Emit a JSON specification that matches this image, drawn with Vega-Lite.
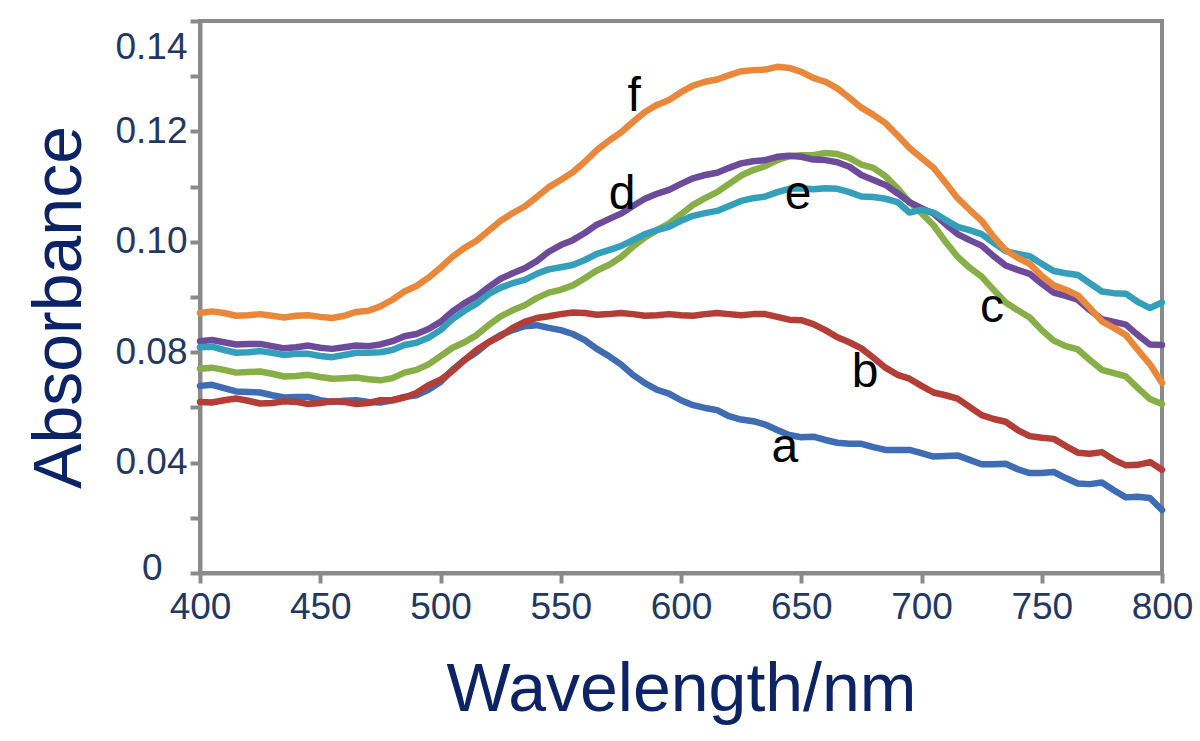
{
  "$schema": "https://vega.github.io/schema/vega-lite/v6.json",
  "width": 962,
  "height": 552,
  "autosize": {"type": "none"},
  "padding": {"left": 200, "top": 21, "right": 38, "bottom": 168},
  "background": "white",
  "config": {
    "view": {"stroke": "#8a8a8a", "strokeWidth": 4},
    "font": "Liberation Sans"
  },
  "datasets": {
    "spectra": [
      {"wl": 400, "a": 0.0739, "b": 0.0710, "c": 0.0770, "d": 0.0820, "e": 0.0809, "f": 0.0871},
      {"wl": 405, "a": 0.0741, "b": 0.0709, "c": 0.0772, "d": 0.0822, "e": 0.0810, "f": 0.0874},
      {"wl": 410, "a": 0.0735, "b": 0.0713, "c": 0.0768, "d": 0.0818, "e": 0.0804, "f": 0.0871},
      {"wl": 415, "a": 0.0729, "b": 0.0716, "c": 0.0763, "d": 0.0814, "e": 0.0799, "f": 0.0866},
      {"wl": 420, "a": 0.0728, "b": 0.0712, "c": 0.0764, "d": 0.0815, "e": 0.0800, "f": 0.0867},
      {"wl": 425, "a": 0.0727, "b": 0.0707, "c": 0.0765, "d": 0.0815, "e": 0.0802, "f": 0.0869},
      {"wl": 430, "a": 0.0722, "b": 0.0708, "c": 0.0761, "d": 0.0811, "e": 0.0799, "f": 0.0866},
      {"wl": 435, "a": 0.0718, "b": 0.0711, "c": 0.0756, "d": 0.0807, "e": 0.0795, "f": 0.0863},
      {"wl": 440, "a": 0.0719, "b": 0.0710, "c": 0.0757, "d": 0.0809, "e": 0.0797, "f": 0.0866},
      {"wl": 445, "a": 0.0719, "b": 0.0706, "c": 0.0759, "d": 0.0812, "e": 0.0797, "f": 0.0867},
      {"wl": 450, "a": 0.0713, "b": 0.0708, "c": 0.0755, "d": 0.0808, "e": 0.0793, "f": 0.0864},
      {"wl": 455, "a": 0.0710, "b": 0.0711, "c": 0.0752, "d": 0.0806, "e": 0.0791, "f": 0.0862},
      {"wl": 460, "a": 0.0712, "b": 0.0710, "c": 0.0753, "d": 0.0809, "e": 0.0795, "f": 0.0866},
      {"wl": 465, "a": 0.0713, "b": 0.0706, "c": 0.0754, "d": 0.0812, "e": 0.0799, "f": 0.0873},
      {"wl": 470, "a": 0.0710, "b": 0.0708, "c": 0.0751, "d": 0.0811, "e": 0.0799, "f": 0.0875},
      {"wl": 475, "a": 0.0709, "b": 0.0713, "c": 0.0749, "d": 0.0814, "e": 0.0800, "f": 0.0883},
      {"wl": 480, "a": 0.0713, "b": 0.0713, "c": 0.0753, "d": 0.0820, "e": 0.0804, "f": 0.0895},
      {"wl": 485, "a": 0.0719, "b": 0.0718, "c": 0.0763, "d": 0.0829, "e": 0.0813, "f": 0.0910},
      {"wl": 490, "a": 0.0722, "b": 0.0726, "c": 0.0768, "d": 0.0833, "e": 0.0817, "f": 0.0920},
      {"wl": 495, "a": 0.0732, "b": 0.0740, "c": 0.0778, "d": 0.0842, "e": 0.0826, "f": 0.0935},
      {"wl": 500, "a": 0.0746, "b": 0.0750, "c": 0.0793, "d": 0.0855, "e": 0.0840, "f": 0.0953},
      {"wl": 505, "a": 0.0768, "b": 0.0766, "c": 0.0808, "d": 0.0874, "e": 0.0860, "f": 0.0973},
      {"wl": 510, "a": 0.0786, "b": 0.0786, "c": 0.0818, "d": 0.0889, "e": 0.0875, "f": 0.0989},
      {"wl": 515, "a": 0.0800, "b": 0.0804, "c": 0.0831, "d": 0.0901, "e": 0.0888, "f": 0.1002},
      {"wl": 520, "a": 0.0818, "b": 0.0818, "c": 0.0849, "d": 0.0918, "e": 0.0905, "f": 0.1020},
      {"wl": 525, "a": 0.0831, "b": 0.0829, "c": 0.0865, "d": 0.0933, "e": 0.0917, "f": 0.1038},
      {"wl": 530, "a": 0.0840, "b": 0.0844, "c": 0.0876, "d": 0.0943, "e": 0.0925, "f": 0.1052},
      {"wl": 535, "a": 0.0847, "b": 0.0855, "c": 0.0885, "d": 0.0952, "e": 0.0931, "f": 0.1064},
      {"wl": 540, "a": 0.0849, "b": 0.0862, "c": 0.0898, "d": 0.0965, "e": 0.0942, "f": 0.1081},
      {"wl": 545, "a": 0.0844, "b": 0.0865, "c": 0.0908, "d": 0.0982, "e": 0.0950, "f": 0.1099},
      {"wl": 550, "a": 0.0840, "b": 0.0869, "c": 0.0913, "d": 0.0994, "e": 0.0954, "f": 0.1112},
      {"wl": 555, "a": 0.0833, "b": 0.0872, "c": 0.0921, "d": 0.1003, "e": 0.0958, "f": 0.1126},
      {"wl": 560, "a": 0.0822, "b": 0.0871, "c": 0.0934, "d": 0.1016, "e": 0.0967, "f": 0.1145},
      {"wl": 565, "a": 0.0806, "b": 0.0868, "c": 0.0948, "d": 0.1031, "e": 0.0978, "f": 0.1166},
      {"wl": 570, "a": 0.0793, "b": 0.0869, "c": 0.0958, "d": 0.1041, "e": 0.0985, "f": 0.1183},
      {"wl": 575, "a": 0.0778, "b": 0.0871, "c": 0.0972, "d": 0.1051, "e": 0.0992, "f": 0.1198},
      {"wl": 580, "a": 0.0759, "b": 0.0869, "c": 0.0991, "d": 0.1065, "e": 0.1003, "f": 0.1217},
      {"wl": 585, "a": 0.0744, "b": 0.0866, "c": 0.1008, "d": 0.1078, "e": 0.1014, "f": 0.1235},
      {"wl": 590, "a": 0.0732, "b": 0.0867, "c": 0.1021, "d": 0.1087, "e": 0.1021, "f": 0.1248},
      {"wl": 595, "a": 0.0725, "b": 0.0869, "c": 0.1033, "d": 0.1094, "e": 0.1027, "f": 0.1257},
      {"wl": 600, "a": 0.0713, "b": 0.0867, "c": 0.1050, "d": 0.1105, "e": 0.1038, "f": 0.1271},
      {"wl": 605, "a": 0.0704, "b": 0.0866, "c": 0.1067, "d": 0.1115, "e": 0.1047, "f": 0.1283},
      {"wl": 610, "a": 0.0699, "b": 0.0869, "c": 0.1079, "d": 0.1121, "e": 0.1052, "f": 0.1290},
      {"wl": 615, "a": 0.0695, "b": 0.0871, "c": 0.1090, "d": 0.1125, "e": 0.1056, "f": 0.1294},
      {"wl": 620, "a": 0.0684, "b": 0.0869, "c": 0.1105, "d": 0.1134, "e": 0.1065, "f": 0.1302},
      {"wl": 625, "a": 0.0678, "b": 0.0867, "c": 0.1120, "d": 0.1142, "e": 0.1074, "f": 0.1309},
      {"wl": 630, "a": 0.0675, "b": 0.0869, "c": 0.1130, "d": 0.1146, "e": 0.1079, "f": 0.1311},
      {"wl": 635, "a": 0.0669, "b": 0.0869, "c": 0.1137, "d": 0.1148, "e": 0.1082, "f": 0.1312},
      {"wl": 640, "a": 0.0659, "b": 0.0864, "c": 0.1148, "d": 0.1154, "e": 0.1090, "f": 0.1317},
      {"wl": 645, "a": 0.0650, "b": 0.0859, "c": 0.1155, "d": 0.1156, "e": 0.1096, "f": 0.1315},
      {"wl": 650, "a": 0.0646, "b": 0.0858, "c": 0.1157, "d": 0.1154, "e": 0.1097, "f": 0.1308},
      {"wl": 655, "a": 0.0647, "b": 0.0851, "c": 0.1157, "d": 0.1149, "e": 0.1095, "f": 0.1297},
      {"wl": 660, "a": 0.0641, "b": 0.0840, "c": 0.1161, "d": 0.1148, "e": 0.1097, "f": 0.1290},
      {"wl": 665, "a": 0.0636, "b": 0.0827, "c": 0.1159, "d": 0.1144, "e": 0.1096, "f": 0.1278},
      {"wl": 670, "a": 0.0634, "b": 0.0818, "c": 0.1152, "d": 0.1136, "e": 0.1090, "f": 0.1261},
      {"wl": 675, "a": 0.0634, "b": 0.0807, "c": 0.1140, "d": 0.1121, "e": 0.1082, "f": 0.1243},
      {"wl": 680, "a": 0.0628, "b": 0.0790, "c": 0.1134, "d": 0.1112, "e": 0.1081, "f": 0.1230},
      {"wl": 685, "a": 0.0623, "b": 0.0772, "c": 0.1119, "d": 0.1103, "e": 0.1078, "f": 0.1215},
      {"wl": 690, "a": 0.0623, "b": 0.0759, "c": 0.1097, "d": 0.1088, "e": 0.1072, "f": 0.1193},
      {"wl": 695, "a": 0.0623, "b": 0.0752, "c": 0.1072, "d": 0.1072, "e": 0.1053, "f": 0.1170},
      {"wl": 700, "a": 0.0617, "b": 0.0739, "c": 0.1052, "d": 0.1061, "e": 0.1058, "f": 0.1152},
      {"wl": 705, "a": 0.0611, "b": 0.0727, "c": 0.1030, "d": 0.1051, "e": 0.1053, "f": 0.1134},
      {"wl": 710, "a": 0.0612, "b": 0.0722, "c": 0.1000, "d": 0.1032, "e": 0.1040, "f": 0.1107},
      {"wl": 715, "a": 0.0613, "b": 0.0716, "c": 0.0973, "d": 0.1014, "e": 0.1027, "f": 0.1079},
      {"wl": 720, "a": 0.0605, "b": 0.0701, "c": 0.0953, "d": 0.1003, "e": 0.1021, "f": 0.1058},
      {"wl": 725, "a": 0.0597, "b": 0.0686, "c": 0.0937, "d": 0.0993, "e": 0.1014, "f": 0.1038},
      {"wl": 730, "a": 0.0597, "b": 0.0679, "c": 0.0913, "d": 0.0974, "e": 0.0998, "f": 0.1009},
      {"wl": 735, "a": 0.0598, "b": 0.0674, "c": 0.0890, "d": 0.0957, "e": 0.0983, "f": 0.0985},
      {"wl": 740, "a": 0.0588, "b": 0.0659, "c": 0.0876, "d": 0.0949, "e": 0.0978, "f": 0.0971},
      {"wl": 745, "a": 0.0581, "b": 0.0648, "c": 0.0863, "d": 0.0942, "e": 0.0974, "f": 0.0960},
      {"wl": 750, "a": 0.0581, "b": 0.0645, "c": 0.0840, "d": 0.0924, "e": 0.0960, "f": 0.0938},
      {"wl": 755, "a": 0.0583, "b": 0.0643, "c": 0.0821, "d": 0.0908, "e": 0.0947, "f": 0.0921},
      {"wl": 760, "a": 0.0572, "b": 0.0630, "c": 0.0811, "d": 0.0902, "e": 0.0943, "f": 0.0913},
      {"wl": 765, "a": 0.0562, "b": 0.0618, "c": 0.0805, "d": 0.0895, "e": 0.0940, "f": 0.0903},
      {"wl": 770, "a": 0.0561, "b": 0.0616, "c": 0.0786, "d": 0.0876, "e": 0.0925, "f": 0.0880},
      {"wl": 775, "a": 0.0564, "b": 0.0619, "c": 0.0768, "d": 0.0860, "e": 0.0910, "f": 0.0856},
      {"wl": 780, "a": 0.0550, "b": 0.0605, "c": 0.0762, "d": 0.0855, "e": 0.0907, "f": 0.0844},
      {"wl": 785, "a": 0.0537, "b": 0.0595, "c": 0.0756, "d": 0.0850, "e": 0.0906, "f": 0.0831},
      {"wl": 790, "a": 0.0538, "b": 0.0596, "c": 0.0735, "d": 0.0831, "e": 0.0891, "f": 0.0804},
      {"wl": 795, "a": 0.0536, "b": 0.0601, "c": 0.0715, "d": 0.0814, "e": 0.0880, "f": 0.0778},
      {"wl": 800, "a": 0.0514, "b": 0.0587, "c": 0.0706, "d": 0.0813, "e": 0.0890, "f": 0.0744}
    ],
    "labels": [
      {"label": "a", "wl": 643.2, "abs": 0.0627},
      {"label": "b", "wl": 676.5, "abs": 0.0762},
      {"label": "c", "wl": 729.3, "abs": 0.0880},
      {"label": "d", "wl": 575.5, "abs": 0.1085},
      {"label": "e", "wl": 648.7, "abs": 0.1085},
      {"label": "f", "wl": 580.5, "abs": 0.1262}
    ]
  },
  "layer": [
    {
      "data": {"name": "spectra"},
      "transform": [{"fold": ["a", "b", "c", "d", "e", "f"], "as": ["sample", "abs"]}],
      "mark": {"type": "line", "strokeWidth": 6.5, "strokeJoin": "round", "strokeCap": "round"},
      "encoding": {
        "x": {
          "field": "wl", "type": "quantitative",
          "scale": {"domain": [400, 800], "nice": false, "zero": false},
          "axis": {
            "values": [400, 450, 500, 550, 600, 650, 700, 750, 800],
            "grid": false,
            "domainColor": "#8a8a8a", "domainWidth": 4,
            "tickColor": "#8a8a8a", "tickWidth": 4, "tickSize": 10,
            "labelFontSize": 37, "labelColor": "#1f3864", "labelPadding": 6, "labelFlush": false,
            "title": "Wavelength/nm", "titleFontSize": 68, "titleFontWeight": "normal",
            "titleColor": "#0c2366", "titleY": 137, "titleBaseline": "alphabetic"
          }
        },
        "y": {
          "field": "abs", "type": "quantitative",
          "scale": {"domain": [0.04, 0.14], "nice": false, "zero": false},
          "axis": {
            "values": [0.04, 0.05, 0.06, 0.07, 0.08, 0.09, 0.1, 0.11, 0.12, 0.13, 0.14],
            "labelExpr": "['0','','0.04','','0.08','','0.10','','0.12','','0.14'][round((datum.value-0.04)*100)]",
            "grid": false,
            "domainColor": "#8a8a8a", "domainWidth": 4,
            "tickColor": "#8a8a8a", "tickWidth": 4, "tickSize": 10,
            "labelFontSize": 37, "labelColor": "#1f3864", "labelFlush": false,
            "labelPadding": {"condition": {"test": "datum.value < 0.045", "value": 28}, "value": 3},
            "labelOffset": {"condition": [{"test": "datum.value > 0.135", "value": 26}, {"test": "datum.value < 0.045", "value": -5}], "value": 0},
            "title": "Absorbance", "titleFontSize": 68, "titleFontWeight": "normal",
            "titleColor": "#0c2366", "titleAngle": 270, "titleX": -120, "titleY": 286,
            "titleBaseline": "alphabetic", "titleAlign": "center"
          }
        },
        "color": {
          "field": "sample", "type": "nominal",
          "scale": {"domain": ["a", "b", "c", "d", "e", "f"], "range": ["#3e6db3", "#b33d37", "#88ae48", "#6e4b9a", "#339fbb", "#e9883a"]},
          "legend": null
        }
      }
    },
    {
      "data": {"name": "labels"},
      "mark": {"type": "text", "fontSize": 48, "font": "Liberation Sans", "color": "#000000", "align": "center", "baseline": "middle"},
      "encoding": {
        "x": {"field": "wl", "type": "quantitative"},
        "y": {"field": "abs", "type": "quantitative"},
        "text": {"field": "label"}
      }
    }
  ]
}
